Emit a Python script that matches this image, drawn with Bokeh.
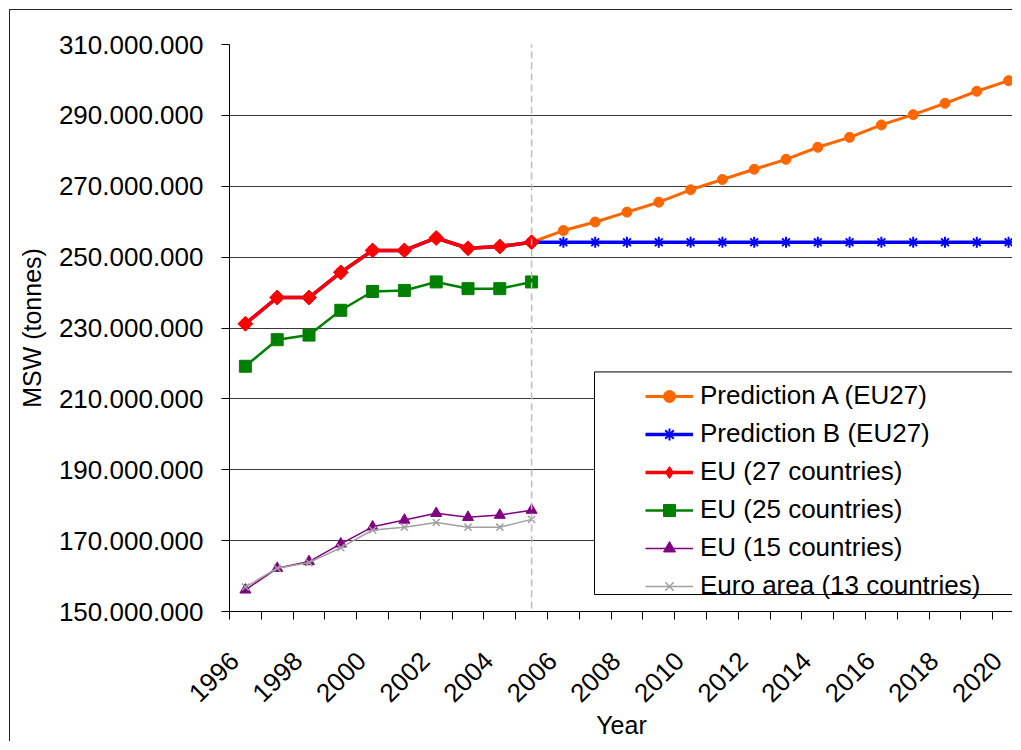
import math
from bokeh.plotting import figure
from bokeh.models import (Range1d, FixedTicker, Legend, LegendItem, Arrow,
                          BoxAnnotation, CustomJSTickFormatter)
from bokeh.embed import file_html
from bokeh.resources import INLINE

# ---------------- data (million tonnes) ----------------
years_hist = [1996, 1997, 1998, 1999, 2000, 2001, 2002, 2003, 2004, 2005]
eu27 = [231.2, 238.6, 238.6, 245.7, 251.9, 251.9, 255.4, 252.5, 253.0, 254.2]
eu25 = [219.2, 226.7, 228.0, 235.0, 240.3, 240.6, 243.0, 241.1, 241.1, 243.0]
eu15 = [156.1, 162.2, 164.1, 169.1, 173.9, 175.8, 177.7, 176.6, 177.2, 178.6]
euro13 = [156.9, 162.2, 163.8, 168.0, 173.0, 173.8, 175.1, 173.8, 173.8, 176.0]

years_pred = [2005, 2006, 2007, 2008, 2009, 2010, 2011, 2012, 2013, 2014,
              2015, 2016, 2017, 2018, 2019, 2020]
pred_a = [254.2, 257.5, 259.9, 262.7, 265.5, 269.0, 271.9, 274.8, 277.6, 281.0,
          283.8, 287.3, 290.2, 293.4, 296.8, 299.8]
pred_b = [254.2, 254.2, 254.2, 254.2, 254.2, 254.2, 254.2, 254.2, 254.2, 254.2,
          254.2, 254.2, 254.2, 254.2, 254.2, 254.2]

y_ticks = [150, 170, 190, 210, 230, 250, 270, 290, 310]
x_tick_years = [1996, 1998, 2000, 2002, 2004, 2006, 2008, 2010, 2012, 2014,
                2016, 2018, 2020]
split_year = 2005

legend_labels = ["Prediction A (EU27)", "Prediction B (EU27)", "EU (27 countries)",
                 "EU (25 countries)", "EU (15 countries)", "Euro area (13 countries)"]

M = 1e6
FONT = "Liberation Sans"

# ---------------- layout ----------------
OFF_X, OFF_Y = 10, 10          # css margin (9) + border (1)
W, H = 1013 - OFF_X, 742 - OFF_Y
FL, FT, FB = 219, 34, 602      # frame left / top / bottom within canvas
frame_w = W - FL
frame_h = FB - FT
cat_px = 31.8
x0 = 1995.5
x1 = x0 + frame_w / cat_px
y0, y1 = y_ticks[0] * M, y_ticks[-1] * M
label_shift = 0.35             # rotated year labels end slightly left of category centre


def px2x(img_x):
    return x0 + (img_x - OFF_X - FL) / cat_px


def px2y(img_y):
    return y1 - (img_y - OFF_Y - FT) * (y1 - y0) / frame_h


p = figure(width=W, height=H, output_backend="svg", toolbar_location=None,
           x_range=Range1d(x0, x1), y_range=Range1d(y0, y1),
           min_border_left=FL, min_border_top=FT, min_border_bottom=H - FB,
           min_border_right=0)
p.styles = {"border-left": "1px solid #222", "border-top": "1px solid #222",
            "margin-left": "9px", "margin-top": "9px"}
p.outline_line_color = None
p.background_fill_color = "white"
p.border_fill_color = "white"

# y axis
yax = p.yaxis[0]
yax.ticker = FixedTicker(ticks=[v * M for v in y_ticks], minor_ticks=[])
yax.formatter = CustomJSTickFormatter(
    code='return Math.round(tick).toString().replace(/\\B(?=(\\d{3})+(?!\\d))/g, ".");')
yax.major_tick_out = 8
yax.major_tick_in = 0
yax.minor_tick_line_color = None
yax.major_label_standoff = 18
yax.major_label_text_font = FONT
yax.major_label_text_font_size = "26px"
yax.major_label_text_color = "black"
yax.axis_line_color = "black"
yax.major_tick_line_color = "black"
yax.axis_label = "MSW (tonnes)"
yax.axis_label_text_font = FONT
yax.axis_label_text_font_size = "25px"
yax.axis_label_text_font_style = "normal"
yax.axis_label_text_color = "black"
yax.axis_label_standoff = 10

# x axis
xax = p.xaxis[0]
xax.ticker = FixedTicker(ticks=[y - label_shift for y in x_tick_years],
                         minor_ticks=[y - 0.5 for y in range(1996, 2022)])
xax.formatter = CustomJSTickFormatter(code="return Math.round(tick).toString();")
xax.major_tick_out = 0
xax.major_tick_in = 0
xax.minor_tick_out = 8
xax.minor_tick_in = 0
xax.minor_tick_line_color = "black"
xax.axis_line_color = "black"
xax.major_label_orientation = math.pi / 4
xax.major_label_standoff = 37
xax.major_label_text_font = FONT
xax.major_label_text_font_size = "26px"
xax.major_label_text_color = "black"
xax.axis_label = "Year"
xax.axis_label_text_font = FONT
xax.axis_label_text_font_size = "25px"
xax.axis_label_text_font_style = "normal"
xax.axis_label_text_color = "black"
xax.axis_label_standoff = -2

p.xgrid.grid_line_color = None
p.ygrid.ticker = FixedTicker(ticks=[v * M for v in y_ticks[1:]])
p.ygrid.grid_line_color = "#3a3a3a"
p.ygrid.grid_line_width = 1

# ---------------- series ----------------
def sc(vals):
    return [v * M for v in vals]

hist_b = years_hist + years_pred[1:]
vals_b = eu27 + pred_b[1:]

la = p.line(years_pred, sc(pred_a), line_color="#FF6600", line_width=3)
ma = p.scatter(years_pred, sc(pred_a), marker="circle", size=10,
               fill_color="#FF6600", line_color="#FF6600")
lb = p.line(hist_b, sc(vals_b), line_color="#0000FF", line_width=3.5)
mb = p.scatter(hist_b, sc(vals_b), marker="asterisk", size=11,
               line_color="#0000FF", line_width=2)
l27 = p.line(years_hist, sc(eu27), line_color="#FF0000", line_width=3.5)
# diamond (legend key) sits under the rotated squares drawn on top
m27_key = p.scatter(years_hist, sc(eu27), marker="diamond", size=14,
                    fill_color="#FF0000", line_color="#FF0000")
m27 = p.scatter(years_hist, sc(eu27), marker="square", angle=math.pi / 4, size=10.5,
                fill_color="#FF0000", line_color="#FF0000")
l25 = p.line(years_hist, sc(eu25), line_color="#008000", line_width=2.5)
m25 = p.scatter(years_hist, sc(eu25), marker="square", size=12,
                fill_color="#008000", line_color="#008000")
l15 = p.line(years_hist, sc(eu15), line_color="#800080", line_width=1.5)
m15 = p.scatter(years_hist, sc(eu15), marker="triangle", size=11,
                fill_color="#800080", line_color="#800080")
l13 = p.line(years_hist, sc(euro13), line_color="#A0A0A0", line_width=1.5)
m13 = p.scatter(years_hist, sc(euro13), marker="x", size=10,
                line_color="#A0A0A0", line_width=1.5)

# dashed separator at last observed year
p.add_layout(Arrow(end=None, x_start=split_year, x_end=split_year,
                   y_start=px2y(40), y_end=px2y(632),
                   line_color="#BDBDBD", line_width=1.5, line_dash="7 4"))

# legend frame
p.add_layout(BoxAnnotation(left=px2x(594), right=x1 + 2, top=px2y(372), bottom=px2y(595),
                           fill_color="white", fill_alpha=1.0,
                           line_color="black", line_width=1, line_alpha=1.0))

items = [LegendItem(label=lab, renderers=rs) for lab, rs in zip(
    legend_labels, [[la, ma], [lb, mb], [l27, m27_key], [l25, m25], [l15, m15], [l13, m13]])]
legend = Legend(items=items, location=(645 - OFF_X - FL, 10),
                padding=0, margin=0, spacing=7,
                glyph_width=48, glyph_height=30, label_height=30, label_standoff=7,
                label_text_font=FONT, label_text_font_size="26px",
                label_text_color="black",
                border_line_color=None, background_fill_alpha=0.0)
p.add_layout(legend)

open("out.html", "w").write(file_html(p, INLINE))
